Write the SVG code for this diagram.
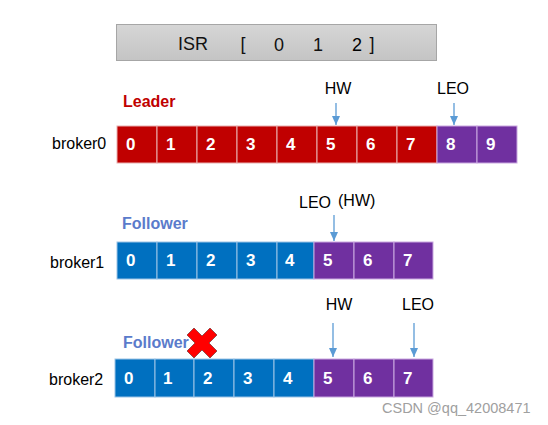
<svg xmlns="http://www.w3.org/2000/svg" width="548" height="425" viewBox="0 0 548 425">
<defs>
<linearGradient id="g" x1="0" y1="0" x2="0" y2="1"><stop offset="0" stop-color="#D6D6D6"/><stop offset="1" stop-color="#C4C4C4"/></linearGradient>
<marker id="ah" markerWidth="10" markerHeight="10" refX="9" refY="4" orient="auto" markerUnits="userSpaceOnUse"><path d="M0,0 L9,4 L0,8 Z" fill="#5B9BD5"/></marker>
</defs>
<style>
text{font-family:"Liberation Sans",Arial,sans-serif}
.r{fill:#C00000;stroke:#E8B0B0;stroke-width:1}
.b{fill:#0070C0;stroke:#9CC3E6;stroke-width:1}
.p{fill:#7030A0;stroke:#C9A8E0;stroke-width:1}
.n{fill:#fff;font-weight:bold;font-size:17px}
.lb{font-size:16px;fill:#000}
.mk{font-size:16px;fill:#000;text-anchor:middle}
.ar{stroke:#5B9BD5;stroke-width:1.3;marker-end:url(#ah)}
</style>
<rect width="548" height="425" fill="#fff"/>
<g id="isr">
<rect x="116.5" y="24.5" width="320" height="36" fill="url(#g)" stroke="#A6A6A6"/>
<text x="193" y="50" font-size="18" text-anchor="middle" fill="#111">ISR</text>
<text x="243" y="50" font-size="18" text-anchor="middle" fill="#111">[</text>
<text x="279" y="51" font-size="18" text-anchor="middle" fill="#111">0</text>
<text x="318" y="51" font-size="18" text-anchor="middle" fill="#111">1</text>
<text x="357" y="51" font-size="18" text-anchor="middle" fill="#000">2</text>
<text x="372" y="50" font-size="18" text-anchor="middle" fill="#111">]</text>
</g>
<g id="broker0">
<text x="123" y="107" font-size="16" font-weight="bold" fill="#C00000">Leader</text>
<text x="52" y="149" class="lb">broker0</text>
<rect class="r" x="117" y="126" width="40" height="37"/><text class="n" x="126" y="150">0</text>
<rect class="r" x="157" y="126" width="40" height="37"/><text class="n" x="166" y="150">1</text>
<rect class="r" x="197" y="126" width="40" height="37"/><text class="n" x="206" y="150">2</text>
<rect class="r" x="237" y="126" width="40" height="37"/><text class="n" x="246" y="150">3</text>
<rect class="r" x="277" y="126" width="40" height="37"/><text class="n" x="286" y="150">4</text>
<rect class="r" x="317" y="126" width="40" height="37"/><text class="n" x="326" y="150">5</text>
<rect class="r" x="357" y="126" width="40" height="37"/><text class="n" x="366" y="150">6</text>
<rect class="r" x="397" y="126" width="40" height="37"/><text class="n" x="406" y="150">7</text>
<rect class="p" x="437" y="126" width="40" height="37"/><text class="n" x="446" y="150">8</text>
<rect class="p" x="477" y="126" width="40" height="37"/><text class="n" x="486" y="150">9</text>
<text class="mk" x="338" y="94">HW</text>
<text class="mk" x="453" y="94">LEO</text>
</g>
<g id="broker1">
<text x="122" y="229" font-size="16" font-weight="bold" fill="#5B7BCB">Follower</text>
<text x="50" y="268" class="lb">broker1</text>
<rect class="b" x="117" y="242" width="40" height="37"/><text class="n" x="126" y="266">0</text>
<rect class="b" x="157" y="242" width="40" height="37"/><text class="n" x="166" y="266">1</text>
<rect class="b" x="197" y="242" width="40" height="37"/><text class="n" x="206" y="266">2</text>
<rect class="b" x="237" y="242" width="40" height="37"/><text class="n" x="246" y="266">3</text>
<rect class="b" x="277" y="242" width="37" height="37"/><text class="n" x="285" y="266">4</text>
<rect class="p" x="314" y="242" width="40" height="37"/><text class="n" x="323" y="266">5</text>
<rect class="p" x="354" y="242" width="40" height="37"/><text class="n" x="363" y="266">6</text>
<rect class="p" x="394" y="242" width="39" height="37"/><text class="n" x="403" y="266">7</text>
<text x="299" y="208" font-size="16" fill="#000">LEO</text>
<text x="338" y="206" font-size="16" fill="#000">(HW)</text>
</g>
<g id="broker2">
<text x="123" y="348" font-size="16" font-weight="bold" fill="#5B7BCB">Follower</text>
<text x="49" y="385" class="lb">broker2</text>
<rect class="b" x="115" y="359" width="40" height="38"/><text class="n" x="124" y="384">0</text>
<rect class="b" x="155" y="359" width="39" height="38"/><text class="n" x="163" y="384">1</text>
<rect class="b" x="194" y="359" width="40" height="38"/><text class="n" x="203" y="384">2</text>
<rect class="b" x="234" y="359" width="40" height="38"/><text class="n" x="243" y="384">3</text>
<rect class="b" x="274" y="359" width="40" height="38"/><text class="n" x="283" y="384">4</text>
<rect class="p" x="314" y="359" width="40" height="38"/><text class="n" x="323" y="384">5</text>
<rect class="p" x="354" y="359" width="40" height="38"/><text class="n" x="363" y="384">6</text>
<rect class="p" x="394" y="359" width="39" height="38"/><text class="n" x="403" y="384">7</text>
<text class="mk" x="339" y="310">HW</text>
<text class="mk" x="418" y="310">LEO</text>
<path id="cross" d="M194,328 L202,336 L210,328 L217,335 L209,343 L217,351 L210,358 L202,350 L194,358 L187,351 L195,343 L187,335 Z" fill="#FF0000" stroke="#7F3F3F" stroke-width="0.8"/>
</g>
<g id="connectors">
<line class="ar" x1="336" y1="103" x2="336" y2="125"/>
<line class="ar" x1="454" y1="103" x2="454" y2="125"/>
<line class="ar" x1="334" y1="215" x2="334" y2="241"/>
<line class="ar" x1="333" y1="323" x2="333" y2="357"/>
<line class="ar" x1="414" y1="323" x2="414" y2="357"/>
</g>
<text x="382" y="413" font-size="14.5" fill="#A0A0A0">CSDN @qq_42008471</text>
</svg>
